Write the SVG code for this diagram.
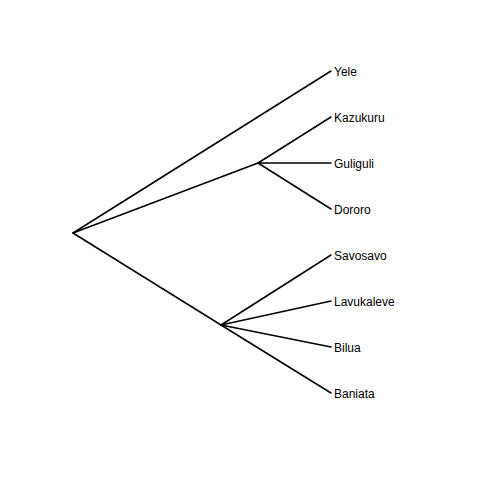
<svg xmlns="http://www.w3.org/2000/svg" width="480" height="480" viewBox="0 0 480 480">
  <style>
    .edge { stroke: #000; stroke-width: 1.5; fill: none; stroke-linecap: round; }
    .lbl { font-family: "Liberation Sans", Arial, sans-serif; font-size: 12px; fill: #000; }
  </style>
  <rect width="480" height="480" fill="#fff"/>
  <g id="edges">
    <path class="edge" d="M73,233 L331,71"/>
    <path class="edge" d="M73,233 L258,163"/>
    <path class="edge" d="M73,233 L221,325"/>
    <path class="edge" d="M258,163 L331,117"/>
    <path class="edge" d="M258,163 L331,163"/>
    <path class="edge" d="M258,163 L331,209"/>
    <path class="edge" d="M221,325 L331,255"/>
    <path class="edge" d="M221,325 L331,301"/>
    <path class="edge" d="M221,325 L331,347"/>
    <path class="edge" d="M221,325 L331,393"/>
  </g>
  <g id="yele"><text class="lbl" x="334" y="76">Yele</text></g>
  <g id="kazukuru"><text class="lbl" x="334" y="122">Kazukuru</text></g>
  <g id="guliguli"><text class="lbl" x="334" y="168">Guliguli</text></g>
  <g id="dororo"><text class="lbl" x="334" y="214">Dororo</text></g>
  <g id="savosavo"><text class="lbl" x="334" y="260">Savosavo</text></g>
  <g id="lavukaleve"><text class="lbl" x="334" y="306">Lavukaleve</text></g>
  <g id="bilua"><text class="lbl" x="334" y="352">Bilua</text></g>
  <g id="baniata"><text class="lbl" x="334" y="398">Baniata</text></g>
</svg>
